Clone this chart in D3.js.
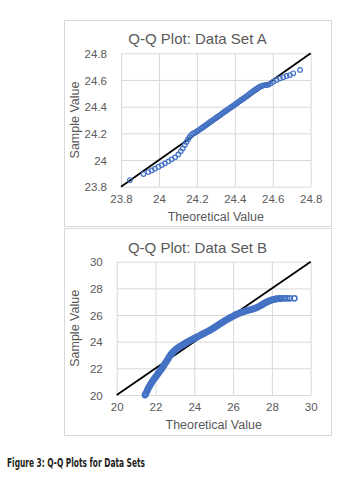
<!DOCTYPE html>
<html>
<head>
<meta charset="utf-8">
<script src="https://cdn.jsdelivr.net/npm/d3@7"></script>
<style>
  html, body { margin: 0; padding: 0; background: #fff; }
  svg { display: block; }
</style>
</head>
<body>
<svg id="chart" width="355" height="482"></svg>
<script>
// ---------- DATA ----------
const titleA = "Q-Q Plot: Data Set A";
const titleB = "Q-Q Plot: Data Set B";
const xTitle = "Theoretical Value";
const yTitle = "Sample Value";
const caption = "Figure 3: Q-Q Plots for Data Sets";

const ticksA = [23.8, 24, 24.2, 24.4, 24.6, 24.8];
const ticksB = [20, 22, 24, 26, 28, 30];
const domainA = [23.8, 24.8];
const domainB = [20, 30];

// Data Set A: theoretical quantiles and sample values
const theoA = [
  23.847, 23.918, 23.944, 23.962, 23.979, 23.997, 24.015, 24.032, 24.050, 24.067,
  24.085, 24.102, 24.115, 24.126, 24.136, 24.145, 24.153, 24.161, 24.170, 24.180,
  24.190, 24.198, 24.206, 24.214, 24.222, 24.230, 24.238, 24.246, 24.254, 24.262,
  24.270, 24.278, 24.286, 24.294, 24.302, 24.310, 24.318, 24.326, 24.334, 24.342,
  24.350, 24.358, 24.366, 24.374, 24.382, 24.390, 24.398, 24.406, 24.414, 24.422,
  24.430, 24.438, 24.446, 24.454, 24.462, 24.470, 24.478, 24.486, 24.494, 24.502,
  24.510, 24.518, 24.526, 24.534, 24.542, 24.550, 24.560, 24.568, 24.576, 24.590,
  24.603, 24.620, 24.638, 24.655, 24.673, 24.690, 24.708, 24.744
];
const sampA = [
  23.850, 23.895, 23.910, 23.922, 23.935, 23.948, 23.962, 23.975, 23.990, 24.005,
  24.020, 24.042, 24.065, 24.088, 24.112, 24.135, 24.155, 24.172, 24.188, 24.200,
  24.206, 24.213, 24.220, 24.228, 24.236, 24.244, 24.252, 24.260, 24.268, 24.276,
  24.285, 24.293, 24.301, 24.309, 24.317, 24.325, 24.333, 24.341, 24.350, 24.358,
  24.366, 24.374, 24.382, 24.390, 24.398, 24.406, 24.414, 24.422, 24.430, 24.438,
  24.446, 24.454, 24.462, 24.470, 24.478, 24.487, 24.496, 24.505, 24.513, 24.521,
  24.529, 24.537, 24.544, 24.550, 24.555, 24.559, 24.562, 24.563, 24.565, 24.575,
  24.587, 24.600, 24.612, 24.620, 24.630, 24.637, 24.650, 24.675
];

// Data Set B
const theoB = [
  21.46, 21.50, 21.54, 21.58, 21.62, 21.67, 21.72, 21.77, 21.82, 21.88,
  21.94, 22.00, 22.06, 22.12, 22.18, 22.24, 22.30, 22.36, 22.42, 22.48,
  22.54, 22.60, 22.66, 22.72, 22.78, 22.85, 22.92, 23.00, 23.08, 23.16,
  23.24, 23.32, 23.40, 23.48, 23.56, 23.64, 23.72, 23.80, 23.88, 23.96,
  24.04, 24.12, 24.20, 24.28, 24.36, 24.44, 24.52, 24.60, 24.68, 24.76,
  24.84, 24.92, 25.00, 25.08, 25.16, 25.24, 25.32, 25.40, 25.48, 25.56,
  25.64, 25.72, 25.80, 25.88, 25.96, 26.04, 26.12, 26.20, 26.28, 26.36,
  26.44, 26.52, 26.60, 26.68, 26.76, 26.84, 26.92, 27.00, 27.08, 27.16,
  27.24, 27.32, 27.40, 27.48, 27.56, 27.64, 27.72, 27.80, 27.88, 27.96,
  28.04, 28.12, 28.20, 28.28, 28.36, 28.44, 28.52, 28.64, 28.78, 28.92, 29.16
];
const sampB = [
  20.00, 20.10, 20.22, 20.35, 20.48, 20.60, 20.74, 20.86, 20.98, 21.10,
  21.22, 21.34, 21.46, 21.58, 21.70, 21.82, 21.94, 22.07, 22.20, 22.33,
  22.46, 22.60, 22.74, 22.88, 23.02, 23.14, 23.25, 23.35, 23.45, 23.54,
  23.62, 23.69, 23.76, 23.83, 23.90, 23.97, 24.04, 24.10, 24.16, 24.22,
  24.28, 24.34, 24.40, 24.46, 24.52, 24.58, 24.64, 24.70, 24.76, 24.82,
  24.89, 24.96, 25.03, 25.10, 25.18, 25.26, 25.34, 25.41, 25.48, 25.55,
  25.62, 25.69, 25.76, 25.82, 25.88, 25.94, 26.00, 26.06, 26.11, 26.16,
  26.20, 26.24, 26.28, 26.32, 26.35, 26.38, 26.41, 26.44, 26.48, 26.52,
  26.57, 26.63, 26.69, 26.76, 26.83, 26.90, 26.96, 27.02, 27.07, 27.11,
  27.15, 27.18, 27.20, 27.22, 27.23, 27.24, 27.25, 27.25, 27.25, 27.25, 27.25
];

// ---------- DRAW ----------
const svg = d3.select("#chart");
const gray = "#595959";
const gridColor = "#d9d9d9";
const blue = "#4472C4";
const font = "'Liberation Sans', Arial, sans-serif";

function panel(cfg) {
  const g = svg.append("g");
  g.append("rect")
    .attr("x", cfg.box[0] + 0.5).attr("y", cfg.box[1] + 0.5)
    .attr("width", cfg.box[2]).attr("height", cfg.box[3])
    .attr("fill", "#fff").attr("stroke", gridColor).attr("stroke-width", 1);

  const x = d3.scaleLinear().domain(cfg.domain).range([cfg.plot.left, cfg.plot.right]);
  const y = d3.scaleLinear().domain(cfg.domain).range([cfg.plot.bottom, cfg.plot.top]);

  const gx = g.append("g")
    .attr("transform", `translate(0,${cfg.plot.bottom})`)
    .call(d3.axisBottom(x).tickValues(cfg.ticks)
      .tickSize(-(cfg.plot.bottom - cfg.plot.top)).tickFormat(d3.format("")).tickPadding(8));
  const gy = g.append("g")
    .attr("transform", `translate(${cfg.plot.left},0)`)
    .call(d3.axisLeft(y).tickValues(cfg.ticks)
      .tickSize(-(cfg.plot.right - cfg.plot.left)).tickFormat(d3.format("")).tickPadding(14));

  [gx, gy].forEach(a => {
    a.select(".domain").remove();
    a.selectAll(".tick line").attr("stroke", gridColor).attr("stroke-width", 1);
    a.selectAll(".tick text").attr("fill", gray)
      .style("font-family", font).style("font-size", "11.5px");
  });
  gx.selectAll(".tick text").attr("dy", "0.71em");
  gy.selectAll(".tick text").attr("dy", "0.35em");

  g.append("line")
    .attr("x1", x(cfg.domain[0])).attr("y1", y(cfg.domain[0]))
    .attr("x2", x(cfg.domain[1])).attr("y2", y(cfg.domain[1]))
    .attr("stroke", "#000").attr("stroke-width", 1.8);

  const pts = cfg.theo.map((t, i) => ({ t, s: cfg.samp[i] }));
  g.append("g").selectAll("circle").data(pts).join("circle")
    .attr("cx", d => x(d.t)).attr("cy", d => y(d.s))
    .attr("r", cfg.r)
    .attr("fill", "none").attr("stroke", blue).attr("stroke-width", cfg.sw);

  g.append("text").text(cfg.title)
    .attr("x", 197.5).attr("y", cfg.titleY).attr("text-anchor", "middle")
    .attr("fill", gray).style("font-family", font).style("font-size", "15px");
  g.append("text").text(xTitle)
    .attr("x", (cfg.plot.left + cfg.plot.right) / 2).attr("y", cfg.xTitleY)
    .attr("text-anchor", "middle")
    .attr("fill", gray).style("font-family", font).style("font-size", "12.5px");
  g.append("text").text(yTitle)
    .attr("transform", `translate(79,${(cfg.plot.top + cfg.plot.bottom) / 2}) rotate(-90)`)
    .attr("text-anchor", "middle")
    .attr("fill", gray).style("font-family", font).style("font-size", "12.5px");
}

panel({
  box: [64, 20, 267, 206],
  plot: { left: 121, right: 310.7, top: 53.3, bottom: 186.7 },
  domain: domainA, ticks: ticksA, theo: theoA, samp: sampA,
  title: titleA, titleY: 44, xTitleY: 220.5, r: 2.3, sw: 1.2
});
panel({
  box: [64, 228, 267, 207],
  plot: { left: 116.7, right: 310.7, top: 261.7, bottom: 395 },
  domain: domainB, ticks: ticksB, theo: theoB, samp: sampB,
  title: titleB, titleY: 252.5, xTitleY: 429, r: 2.6, sw: 1.6
});

svg.append("text").text(caption)
  .attr("x", 7).attr("y", 467)
  .attr("textLength", 138).attr("lengthAdjust", "spacingAndGlyphs")
  .attr("fill", "#231f20")
  .style("font-family", "'Liberation Sans Narrow', 'DejaVu Sans Condensed', sans-serif")
  .style("font-size", "12px").style("font-weight", "600");
</script>
</body>
</html>
